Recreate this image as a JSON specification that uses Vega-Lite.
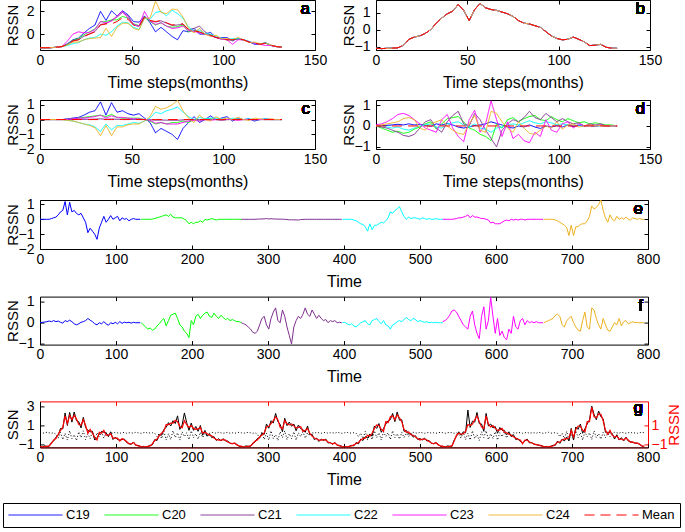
{
"$schema":"https://vega.github.io/schema/vega-lite/v6.json",
"padding":{"left":2,"top":-1,"right":2,"bottom":2},
"autosize":{"type":"pad"},
"data":{"name":"D"},
"datasets":{"D":[
{"c":"C19","m":0,"t":0,"a":-1.2,"b":-1.08,"p":0,"q":0,"k":-1.15,"o":0.25},
{"c":"C19","m":3,"t":3,"a":-1.2,"b":-1.1,"p":0,"q":0.02,"k":-1.25,"o":0.2},
{"c":"C19","m":6,"t":6,"a":-1.2,"b":-1.08,"p":0,"q":0.03,"k":-1.1,"o":0.25},
{"c":"C19","m":9,"t":9,"a":-1.15,"b":-1.07,"p":0,"q":0.05,"k":-1.15,"o":0.3},
{"c":"C19","m":12,"t":12,"a":-1.1,"b":-1.05,"p":0,"q":0.08,"k":-1.15,"o":0.25},
{"c":"C19","m":15,"t":15,"a":-0.85,"b":-0.9,"p":0.05,"q":0.05,"k":-0.75,"o":0.2},
{"c":"C19","m":18,"t":18,"a":-0.5,"b":-0.55,"p":0.1,"q":0.1,"k":-0.6,"o":0.25},
{"c":"C19","m":21,"t":21,"a":-0.35,"b":-0.42,"p":0.15,"q":0.05,"k":-0.2,"o":0.1},
{"c":"C19","m":24,"t":24,"a":0.1,"b":-0.35,"p":0.3,"q":0.08,"k":0.0,"o":-0.3},
{"c":"C19","m":27,"t":27,"a":0.5,"b":-0.2,"p":0.5,"q":0.02,"k":0.7,"o":0.3},
{"c":"C19","m":30,"t":30,"a":0.8,"b":0.02,"p":0.6,"q":-0.02,"k":0.65,"o":-0.45},
{"c":"C19","m":33,"t":33,"a":2.0,"b":0.4,"p":1.2,"q":0.1,"k":2.3,"o":0.2},
{"c":"C19","m":36,"t":36,"a":1.2,"b":0.7,"p":0.3,"q":0.05,"k":1.0,"o":-0.5},
{"c":"C19","m":39,"t":39,"a":2.05,"b":0.95,"p":1.15,"q":0.12,"k":2.35,"o":0.45},
{"c":"C19","m":42,"t":42,"a":1.6,"b":1.1,"p":0.5,"q":0.05,"k":1.35,"o":-0.35},
{"c":"C19","m":45,"t":45,"a":2.05,"b":1.5,"p":0.6,"q":-0.05,"k":2.4,"o":0.05},
{"c":"C19","m":48,"t":48,"a":1.7,"b":1.15,"p":0.4,"q":-0.1,"k":1.5,"o":-0.55},
{"c":"C19","m":51,"t":51,"a":1.1,"b":0.55,"p":0.3,"q":-0.05,"k":1.4,"o":0.35},
{"c":"C19","m":54,"t":54,"a":1.05,"b":1.2,"p":0.4,"q":0.02,"k":0.75,"o":-0.25},
{"c":"C19","m":57,"t":57,"a":1.6,"b":1.55,"p":0.1,"q":0.05,"k":1.85,"o":0.45},
{"c":"C19","m":60,"t":60,"a":1.0,"b":1.3,"p":-0.2,"q":0.1,"k":0.8,"o":-0.45},
{"c":"C19","m":63,"t":63,"a":0.2,"b":1.2,"p":-0.9,"q":0.2,"k":0.5,"o":0.15},
{"c":"C19","m":66,"t":66,"a":0.6,"b":1.15,"p":-0.6,"q":0.12,"k":0.35,"o":-0.35},
{"c":"C19","m":69,"t":69,"a":0.2,"b":1.05,"p":-0.8,"q":0.05,"k":0.4,"o":0.35},
{"c":"C19","m":72,"t":72,"a":-0.2,"b":0.95,"p":-1.0,"q":-0.05,"k":-0.5,"o":-0.5},
{"c":"C19","m":75,"t":75,"a":-0.5,"b":0.8,"p":-1.35,"q":-0.1,"k":-0.25,"o":0.25},
{"c":"C19","m":78,"t":78,"a":0.3,"b":0.55,"p":-0.6,"q":0.0,"k":0.1,"o":-0.15},
{"c":"C19","m":81,"t":81,"a":0.2,"b":0.4,"p":-0.2,"q":-0.05,"k":0.4,"o":0.35},
{"c":"C19","m":84,"t":84,"a":0.5,"b":0.35,"p":0.2,"q":0.05,"k":0.3,"o":-0.3},
{"c":"C19","m":87,"t":87,"a":0.0,"b":0.25,"p":-0.2,"q":-0.05,"k":0.25,"o":0.25},
{"c":"C19","m":90,"t":90,"a":0.0,"b":0.15,"p":0.0,"q":-0.12,"k":-0.15,"o":-0.05},
{"c":"C19","m":93,"t":93,"a":0.15,"b":-0.1,"p":0.25,"q":0.0,"k":0.35,"o":0.25},
{"c":"C19","m":96,"t":96,"a":-0.3,"b":-0.35,"p":0.0,"q":-0.05,"k":-0.45,"o":0.2},
{"c":"C19","m":99,"t":99,"a":-0.3,"b":-0.5,"p":0.1,"q":0.02,"k":-0.2,"o":0.3},
{"c":"C19","m":102,"t":102,"a":-0.3,"b":-0.58,"p":0.2,"q":-0.05,"k":-0.45,"o":0.25},
{"c":"C19","m":105,"t":105,"a":-0.6,"b":-0.55,"p":-0.1,"q":0.05,"k":-0.5,"o":0.2},
{"c":"C19","m":108,"t":108,"a":-0.35,"b":-0.42,"p":0.1,"q":-0.03,"k":-0.45,"o":0.25},
{"c":"C19","m":111,"t":111,"a":-0.5,"b":-0.55,"p":0.0,"q":0.03,"k":-0.4,"o":0.3},
{"c":"C19","m":114,"t":114,"a":-0.65,"b":-0.7,"p":0.05,"q":0.0,"k":-0.75,"o":0.2},
{"c":"C19","m":117,"t":117,"a":-0.9,"b":-0.92,"p":-0.1,"q":0.02,"k":-0.85,"o":0.25},
{"c":"C19","m":120,"t":120,"a":-0.9,"b":-0.9,"p":0.0,"q":-0.02,"k":-0.95,"o":0.25},
{"c":"C19","m":123,"t":123,"a":-0.75,"b":-0.85,"p":0.05,"q":0.02,"k":-0.7,"o":0.2},
{"c":"C19","m":126,"t":126,"a":-1.0,"b":-1.02,"p":0.0,"q":0.0,"k":-1.05,"o":0.3},
{"c":"C19","m":129,"t":129,"a":-1.1,"b":-1.07,"p":0.0,"q":0.0,"k":-1.05,"o":0.25},
{"c":"C19","m":132,"t":132,"a":-1.15,"b":-1.08,"p":0.0,"q":0.0,"k":-1.15,"o":0.2},
{"c":"C20","m":0,"t":133,"a":-1.2,"b":-1.08,"p":0,"q":0,"k":-1.25,"o":0.2},
{"c":"C20","m":3,"t":136,"a":-1.2,"b":-1.1,"p":0,"q":-0.1,"k":-1.15,"o":0.25},
{"c":"C20","m":6,"t":139,"a":-1.2,"b":-1.08,"p":0,"q":-0.2,"k":-1.25,"o":0.3},
{"c":"C20","m":9,"t":142,"a":-1.15,"b":-1.07,"p":0,"q":-0.3,"k":-1.15,"o":0.2},
{"c":"C20","m":12,"t":145,"a":-1.1,"b":-1.05,"p":0,"q":-0.25,"k":-1.05,"o":0.25},
{"c":"C20","m":15,"t":148,"a":-0.88,"b":-0.9,"p":0.02,"q":-0.35,"k":-0.98,"o":0.25},
{"c":"C20","m":18,"t":151,"a":-0.55,"b":-0.55,"p":0.05,"q":-0.3,"k":-0.45,"o":0.2},
{"c":"C20","m":21,"t":154,"a":-0.4,"b":-0.42,"p":0.1,"q":-0.15,"k":-0.55,"o":-0.15},
{"c":"C20","m":24,"t":157,"a":-0.05,"b":-0.35,"p":0.15,"q":-0.05,"k":0.05,"o":0.2},
{"c":"C20","m":27,"t":160,"a":0.2,"b":-0.2,"p":0.2,"q":0.1,"k":0.0,"o":-0.35},
{"c":"C20","m":30,"t":163,"a":0.45,"b":0.02,"p":0.25,"q":0.2,"k":0.6,"o":0.4},
{"c":"C20","m":33,"t":166,"a":1.1,"b":0.4,"p":0.3,"q":-0.15,"k":0.8,"o":-0.5},
{"c":"C20","m":36,"t":169,"a":1.1,"b":0.7,"p":0.2,"q":0.1,"k":1.3,"o":0.15},
{"c":"C20","m":39,"t":172,"a":1.25,"b":0.95,"p":0.35,"q":0.35,"k":0.95,"o":-0.45},
{"c":"C20","m":42,"t":175,"a":1.25,"b":1.1,"p":0.15,"q":0.4,"k":1.5,"o":0.45},
{"c":"C20","m":45,"t":178,"a":1.55,"b":1.5,"p":0.1,"q":0.45,"k":1.2,"o":-0.25},
{"c":"C20","m":48,"t":181,"a":1.4,"b":1.15,"p":0.1,"q":0.2,"k":2.0,"o":0.25},
{"c":"C20","m":51,"t":184,"a":0.9,"b":0.55,"p":0.1,"q":-0.1,"k":0.6,"o":-0.5},
{"c":"C20","m":54,"t":187,"a":0.75,"b":1.2,"p":0.1,"q":-0.2,"k":1.05,"o":0.35},
{"c":"C20","m":57,"t":190,"a":1.5,"b":1.55,"p":0.0,"q":-0.4,"k":2.3,"o":-0.15},
{"c":"C20","m":60,"t":193,"a":1.1,"b":1.3,"p":-0.1,"q":-0.5,"k":1.3,"o":0.25},
{"c":"C20","m":63,"t":196,"a":0.8,"b":1.2,"p":-0.3,"q":-0.7,"k":0.5,"o":-0.45},
{"c":"C20","m":66,"t":199,"a":1.0,"b":1.15,"p":-0.2,"q":0.1,"k":1.25,"o":0.45},
{"c":"C20","m":69,"t":202,"a":0.7,"b":1.05,"p":-0.3,"q":-0.1,"k":0.5,"o":-0.25},
{"c":"C20","m":72,"t":205,"a":0.6,"b":0.95,"p":-0.2,"q":0.3,"k":0.9,"o":0.15},
{"c":"C20","m":75,"t":208,"a":0.65,"b":0.8,"p":-0.2,"q":0.4,"k":0.4,"o":-0.4},
{"c":"C20","m":78,"t":211,"a":0.8,"b":0.55,"p":-0.1,"q":0.2,"k":1.0,"o":0.3},
{"c":"C20","m":81,"t":214,"a":0.2,"b":0.4,"p":-0.2,"q":0.35,"k":0.0,"o":-0.25},
{"c":"C20","m":84,"t":217,"a":0.3,"b":0.35,"p":0.0,"q":0.45,"k":0.5,"o":0.2},
{"c":"C20","m":87,"t":220,"a":0.15,"b":0.25,"p":-0.05,"q":0.5,"k":-0.1,"o":-0.15},
{"c":"C20","m":90,"t":223,"a":0.0,"b":0.15,"p":0.0,"q":0.3,"k":0.15,"o":0.2},
{"c":"C20","m":93,"t":226,"a":-0.05,"b":-0.1,"p":0.05,"q":0.25,"k":-0.25,"o":0.3},
{"c":"C20","m":96,"t":229,"a":-0.3,"b":-0.35,"p":0.0,"q":0.45,"k":-0.15,"o":0.25},
{"c":"C20","m":99,"t":232,"a":-0.45,"b":-0.5,"p":-0.05,"q":0.3,"k":-0.55,"o":0.2},
{"c":"C20","m":102,"t":235,"a":-0.5,"b":-0.58,"p":0.0,"q":0.2,"k":-0.35,"o":0.3},
{"c":"C20","m":105,"t":238,"a":-0.5,"b":-0.55,"p":0.0,"q":0.35,"k":-0.6,"o":0.25},
{"c":"C20","m":108,"t":241,"a":-0.45,"b":-0.42,"p":0.0,"q":0.25,"k":-0.35,"o":0.2},
{"c":"C20","m":111,"t":244,"a":-0.5,"b":-0.55,"p":0.0,"q":0.15,"k":-0.6,"o":0.25},
{"c":"C20","m":114,"t":247,"a":-0.7,"b":-0.7,"p":0.0,"q":0.2,"k":-0.6,"o":0.3},
{"c":"C20","m":117,"t":250,"a":-0.8,"b":-0.92,"p":0.0,"q":0.1,"k":-0.85,"o":0.2},
{"c":"C20","m":120,"t":253,"a":-0.9,"b":-0.9,"p":0.0,"q":0.15,"k":-0.85,"o":0.25},
{"c":"C20","m":123,"t":256,"a":-0.8,"b":-0.85,"p":0.0,"q":0.1,"k":-0.85,"o":0.2},
{"c":"C20","m":126,"t":259,"a":-1.0,"b":-1.02,"p":0.0,"q":0.05,"k":-0.95,"o":0.25},
{"c":"C20","m":129,"t":262,"a":-1.1,"b":-1.07,"p":0.0,"q":0.05,"k":-1.15,"o":0.3},
{"c":"C20","m":132,"t":265,"a":-1.15,"b":-1.08,"p":0.0,"q":0.0,"k":-1.15,"o":0.25},
{"c":"C21","m":0,"t":265,"a":-1.2,"b":-1.08,"p":0,"q":0,"k":-1.15,"o":0.25},
{"c":"C21","m":3,"t":268,"a":-1.2,"b":-1.1,"p":0,"q":-0.05,"k":-1.25,"o":0.2},
{"c":"C21","m":6,"t":271,"a":-1.2,"b":-1.08,"p":0,"q":-0.1,"k":-1.1,"o":0.25},
{"c":"C21","m":9,"t":274,"a":-1.15,"b":-1.07,"p":0,"q":-0.2,"k":-1.15,"o":0.3},
{"c":"C21","m":12,"t":277,"a":-1.1,"b":-1.05,"p":0,"q":-0.3,"k":-1.15,"o":0.25},
{"c":"C21","m":15,"t":280,"a":-0.9,"b":-0.9,"p":0,"q":-0.45,"k":-0.8,"o":0.2},
{"c":"C21","m":18,"t":283,"a":-0.6,"b":-0.55,"p":0,"q":-0.5,"k":-0.7,"o":0.25},
{"c":"C21","m":21,"t":286,"a":-0.49,"b":-0.42,"p":0.01,"q":-0.4,"k":-0.34,"o":0.1},
{"c":"C21","m":24,"t":289,"a":-0.18,"b":-0.35,"p":0.02,"q":-0.1,"k":-0.28,"o":-0.3},
{"c":"C21","m":27,"t":292,"a":0.02,"b":-0.2,"p":0.02,"q":0.2,"k":0.22,"o":0.3},
{"c":"C21","m":30,"t":295,"a":0.23,"b":0.02,"p":0.03,"q":0.3,"k":0.08,"o":-0.45},
{"c":"C21","m":33,"t":298,"a":0.85,"b":0.4,"p":0.05,"q":-0.1,"k":1.15,"o":0.2},
{"c":"C21","m":36,"t":301,"a":0.92,"b":0.7,"p":0.02,"q":-0.3,"k":0.72,"o":-0.5},
{"c":"C21","m":39,"t":304,"a":1.2,"b":0.95,"p":0.04,"q":0.2,"k":1.5,"o":0.45},
{"c":"C21","m":42,"t":307,"a":1.5,"b":1.1,"p":0.02,"q":0.5,"k":1.25,"o":-0.35},
{"c":"C21","m":45,"t":310,"a":1.9,"b":1.5,"p":0.02,"q":0.7,"k":2.25,"o":0.05},
{"c":"C21","m":48,"t":313,"a":1.6,"b":1.15,"p":0.01,"q":0.1,"k":1.4,"o":-0.55},
{"c":"C21","m":51,"t":316,"a":0.81,"b":0.55,"p":0.01,"q":0.0,"k":1.11,"o":0.35},
{"c":"C21","m":54,"t":319,"a":0.66,"b":1.2,"p":0.01,"q":0.6,"k":0.36,"o":-0.25},
{"c":"C21","m":57,"t":322,"a":1.5,"b":1.55,"p":0,"q":0.3,"k":1.75,"o":0.45},
{"c":"C21","m":60,"t":325,"a":1.19,"b":1.3,"p":-0.01,"q":-0.2,"k":0.99,"o":-0.45},
{"c":"C21","m":63,"t":328,"a":1.06,"b":1.2,"p":-0.04,"q":-0.6,"k":1.36,"o":0.15},
{"c":"C21","m":66,"t":331,"a":1.17,"b":1.15,"p":-0.03,"q":-1.0,"k":0.92,"o":-0.35},
{"c":"C21","m":69,"t":334,"a":0.96,"b":1.05,"p":-0.04,"q":-0.2,"k":1.16,"o":0.35},
{"c":"C21","m":72,"t":337,"a":0.76,"b":0.95,"p":-0.04,"q":0.1,"k":0.46,"o":-0.5},
{"c":"C21","m":75,"t":340,"a":0.8,"b":0.8,"p":-0.05,"q":0.3,"k":1.05,"o":0.25},
{"c":"C21","m":78,"t":343,"a":0.88,"b":0.55,"p":-0.02,"q":0.2,"k":0.68,"o":-0.15},
{"c":"C21","m":81,"t":346,"a":0.39,"b":0.4,"p":-0.01,"q":0.4,"k":0.59,"o":0.35},
{"c":"C21","m":84,"t":349,"a":0.5,"b":0.35,"p":0,"q":0.7,"k":0.3,"o":-0.3},
{"c":"C21","m":87,"t":352,"a":0.7,"b":0.25,"p":0,"q":0.4,"k":0.95,"o":0.25},
{"c":"C21","m":90,"t":355,"a":0.2,"b":0.15,"p":0,"q":0.3,"k":0.05,"o":-0.05},
{"c":"C21","m":93,"t":358,"a":-0.1,"b":-0.1,"p":0,"q":0.6,"k":0.1,"o":0.25},
{"c":"C21","m":96,"t":361,"a":-0.3,"b":-0.35,"p":0,"q":0.4,"k":-0.45,"o":0.2},
{"c":"C21","m":99,"t":364,"a":-0.4,"b":-0.5,"p":0,"q":0.2,"k":-0.3,"o":0.3},
{"c":"C21","m":102,"t":367,"a":-0.5,"b":-0.58,"p":0,"q":0.35,"k":-0.65,"o":0.25},
{"c":"C21","m":105,"t":370,"a":-0.5,"b":-0.55,"p":0,"q":0.2,"k":-0.4,"o":0.2},
{"c":"C21","m":108,"t":373,"a":-0.45,"b":-0.42,"p":0,"q":0.1,"k":-0.55,"o":0.25},
{"c":"C21","m":111,"t":376,"a":-0.5,"b":-0.55,"p":0,"q":0.15,"k":-0.4,"o":0.3},
{"c":"C21","m":114,"t":379,"a":-0.7,"b":-0.7,"p":0,"q":0.0,"k":-0.8,"o":0.2},
{"c":"C21","m":117,"t":382,"a":-0.8,"b":-0.92,"p":0,"q":0.1,"k":-0.75,"o":0.25},
{"c":"C21","m":120,"t":385,"a":-0.9,"b":-0.9,"p":0,"q":0.05,"k":-0.95,"o":0.25},
{"c":"C21","m":123,"t":388,"a":-0.8,"b":-0.85,"p":0,"q":0.1,"k":-0.75,"o":0.2},
{"c":"C21","m":126,"t":391,"a":-1.0,"b":-1.02,"p":0,"q":0.0,"k":-1.05,"o":0.3},
{"c":"C21","m":129,"t":394,"a":-1.1,"b":-1.07,"p":0,"q":0.02,"k":-1.05,"o":0.25},
{"c":"C21","m":132,"t":397,"a":-1.15,"b":-1.08,"p":0,"q":0.0,"k":-1.15,"o":0.2},
{"c":"C22","m":0,"t":398,"a":-1.2,"b":-1.08,"p":0,"q":0,"k":-1.25,"o":0.2},
{"c":"C22","m":3,"t":401,"a":-1.2,"b":-1.1,"p":0,"q":0.02,"k":-1.15,"o":0.25},
{"c":"C22","m":6,"t":404,"a":-1.2,"b":-1.08,"p":0,"q":-0.05,"k":-1.25,"o":0.3},
{"c":"C22","m":9,"t":407,"a":-1.15,"b":-1.07,"p":0,"q":-0.1,"k":-1.15,"o":0.2},
{"c":"C22","m":12,"t":410,"a":-1.1,"b":-1.05,"p":0,"q":-0.05,"k":-1.05,"o":0.25},
{"c":"C22","m":15,"t":413,"a":-1.0,"b":-0.9,"p":-0.05,"q":-0.15,"k":-1.1,"o":0.25},
{"c":"C22","m":18,"t":416,"a":-0.85,"b":-0.55,"p":-0.1,"q":-0.2,"k":-0.75,"o":0.2},
{"c":"C22","m":21,"t":419,"a":-0.75,"b":-0.42,"p":-0.2,"q":-0.1,"k":-0.9,"o":-0.15},
{"c":"C22","m":24,"t":422,"a":-0.5,"b":-0.35,"p":-0.3,"q":0.0,"k":-0.4,"o":0.2},
{"c":"C22","m":27,"t":425,"a":-0.35,"b":-0.2,"p":-0.35,"q":0.05,"k":-0.55,"o":-0.35},
{"c":"C22","m":30,"t":428,"a":-0.3,"b":0.02,"p":-0.5,"q":0.1,"k":-0.15,"o":0.4},
{"c":"C22","m":33,"t":431,"a":0.0,"b":0.4,"p":-0.8,"q":-0.05,"k":-0.3,"o":-0.5},
{"c":"C22","m":36,"t":434,"a":-0.1,"b":0.7,"p":-0.3,"q":-0.1,"k":0.1,"o":0.15},
{"c":"C22","m":39,"t":437,"a":0.2,"b":0.95,"p":-0.7,"q":0.1,"k":-0.1,"o":-0.45},
{"c":"C22","m":42,"t":440,"a":0.7,"b":1.1,"p":-0.4,"q":0.15,"k":0.95,"o":0.45},
{"c":"C22","m":45,"t":443,"a":1.05,"b":1.5,"p":-0.4,"q":0.2,"k":0.7,"o":-0.25},
{"c":"C22","m":48,"t":446,"a":1.0,"b":1.15,"p":-0.3,"q":0.05,"k":1.2,"o":0.25},
{"c":"C22","m":51,"t":449,"a":0.6,"b":0.55,"p":-0.2,"q":-0.05,"k":0.3,"o":-0.5},
{"c":"C22","m":54,"t":452,"a":0.4,"b":1.2,"p":-0.25,"q":0.1,"k":0.7,"o":0.35},
{"c":"C22","m":57,"t":455,"a":1.4,"b":1.55,"p":-0.1,"q":-0.1,"k":1.15,"o":-0.15},
{"c":"C22","m":60,"t":458,"a":1.3,"b":1.3,"p":0.1,"q":-0.15,"k":1.5,"o":0.25},
{"c":"C22","m":63,"t":461,"a":1.9,"b":1.2,"p":0.5,"q":-0.3,"k":1.6,"o":-0.45},
{"c":"C22","m":66,"t":464,"a":2.0,"b":1.15,"p":0.4,"q":-0.1,"k":2.25,"o":0.45},
{"c":"C22","m":69,"t":467,"a":1.6,"b":1.05,"p":0.6,"q":-0.05,"k":1.4,"o":-0.25},
{"c":"C22","m":72,"t":470,"a":2.1,"b":0.95,"p":0.7,"q":0.05,"k":2.4,"o":0.15},
{"c":"C22","m":75,"t":473,"a":1.8,"b":0.8,"p":0.85,"q":0.1,"k":1.55,"o":-0.4},
{"c":"C22","m":78,"t":476,"a":1.4,"b":0.55,"p":0.5,"q":0.05,"k":1.6,"o":0.3},
{"c":"C22","m":81,"t":479,"a":0.6,"b":0.4,"p":0.2,"q":0.15,"k":0.4,"o":-0.25},
{"c":"C22","m":84,"t":482,"a":0.3,"b":0.35,"p":0.0,"q":0.25,"k":0.5,"o":0.2},
{"c":"C22","m":87,"t":485,"a":0.35,"b":0.25,"p":0.15,"q":0.15,"k":0.1,"o":-0.15},
{"c":"C22","m":90,"t":488,"a":0.05,"b":0.15,"p":0.05,"q":0.1,"k":0.2,"o":0.2},
{"c":"C22","m":93,"t":491,"a":0.0,"b":-0.1,"p":0.1,"q":0.2,"k":-0.2,"o":0.3},
{"c":"C22","m":96,"t":494,"a":-0.2,"b":-0.35,"p":0.1,"q":0.15,"k":-0.05,"o":0.25},
{"c":"C22","m":99,"t":497,"a":-0.35,"b":-0.5,"p":0.05,"q":0.05,"k":-0.45,"o":0.2},
{"c":"C22","m":102,"t":500,"a":-0.5,"b":-0.58,"p":0.0,"q":0.1,"k":-0.35,"o":0.3},
{"c":"C22","m":105,"t":503,"a":-0.4,"b":-0.55,"p":0.1,"q":0.05,"k":-0.5,"o":0.25},
{"c":"C22","m":108,"t":506,"a":-0.4,"b":-0.42,"p":0.05,"q":0.02,"k":-0.3,"o":0.2},
{"c":"C22","m":111,"t":509,"a":-0.5,"b":-0.55,"p":0.0,"q":0.05,"k":-0.6,"o":0.25},
{"c":"C22","m":114,"t":512,"a":-0.65,"b":-0.7,"p":0.05,"q":0.0,"k":-0.55,"o":0.3},
{"c":"C22","m":117,"t":515,"a":-0.8,"b":-0.92,"p":0.0,"q":0.02,"k":-0.85,"o":0.2},
{"c":"C22","m":120,"t":518,"a":-0.9,"b":-0.9,"p":0.0,"q":0.0,"k":-0.85,"o":0.25},
{"c":"C22","m":123,"t":521,"a":-0.75,"b":-0.85,"p":0.05,"q":0.02,"k":-0.8,"o":0.2},
{"c":"C22","m":126,"t":524,"a":-1.0,"b":-1.02,"p":0.0,"q":0.0,"k":-0.95,"o":0.25},
{"c":"C22","m":129,"t":527,"a":-1.1,"b":-1.07,"p":0.0,"q":0.0,"k":-1.15,"o":0.3},
{"c":"C22","m":132,"t":530,"a":-1.15,"b":-1.08,"p":0.0,"q":0.0,"k":-1.15,"o":0.25},
{"c":"C23","m":0,"t":530,"a":-1.2,"b":-1.08,"p":0,"q":0.05,"k":-1.15,"o":0.25},
{"c":"C23","m":3,"t":533,"a":-1.2,"b":-1.1,"p":0,"q":0.1,"k":-1.25,"o":0.2},
{"c":"C23","m":6,"t":536,"a":-1.2,"b":-1.08,"p":0,"q":0.2,"k":-1.1,"o":0.25},
{"c":"C23","m":9,"t":539,"a":-1.15,"b":-1.07,"p":0,"q":0.35,"k":-1.15,"o":0.3},
{"c":"C23","m":12,"t":542,"a":-1.1,"b":-1.05,"p":0,"q":0.55,"k":-1.15,"o":0.25},
{"c":"C23","m":15,"t":545,"a":-0.6,"b":-0.9,"p":0.02,"q":0.6,"k":-0.5,"o":0.2},
{"c":"C23","m":18,"t":548,"a":0.0,"b":-0.55,"p":0.05,"q":0.5,"k":-0.1,"o":0.25},
{"c":"C23","m":21,"t":551,"a":0.2,"b":-0.42,"p":0.1,"q":0.3,"k":0.35,"o":0.1},
{"c":"C23","m":24,"t":554,"a":0.1,"b":-0.35,"p":0.1,"q":0.1,"k":0.0,"o":-0.3},
{"c":"C23","m":27,"t":557,"a":0.15,"b":-0.2,"p":0.15,"q":-0.1,"k":0.35,"o":0.3},
{"c":"C23","m":30,"t":560,"a":0.4,"b":0.02,"p":0.2,"q":-0.2,"k":0.25,"o":-0.45},
{"c":"C23","m":33,"t":563,"a":1.1,"b":0.4,"p":0.3,"q":-0.3,"k":2.6,"o":0.2},
{"c":"C23","m":36,"t":566,"a":1.0,"b":0.7,"p":0.1,"q":0.3,"k":0.8,"o":-0.5},
{"c":"C23","m":39,"t":569,"a":1.15,"b":0.95,"p":0.25,"q":0.55,"k":1.45,"o":0.45},
{"c":"C23","m":42,"t":572,"a":1.6,"b":1.1,"p":0.15,"q":-0.1,"k":1.35,"o":-0.35},
{"c":"C23","m":45,"t":575,"a":2.0,"b":1.5,"p":0.15,"q":-0.5,"k":2.35,"o":0.05},
{"c":"C23","m":48,"t":578,"a":1.4,"b":1.15,"p":0.1,"q":-0.75,"k":1.2,"o":-0.55},
{"c":"C23","m":51,"t":581,"a":0.85,"b":0.55,"p":0.05,"q":0.3,"k":1.15,"o":0.35},
{"c":"C23","m":54,"t":584,"a":0.7,"b":1.2,"p":0.05,"q":0.75,"k":0.4,"o":-0.25},
{"c":"C23","m":57,"t":587,"a":2.0,"b":1.55,"p":0.0,"q":-0.3,"k":2.25,"o":0.45},
{"c":"C23","m":60,"t":590,"a":1.15,"b":1.3,"p":-0.05,"q":0.1,"k":0.95,"o":-0.45},
{"c":"C23","m":63,"t":593,"a":0.85,"b":1.2,"p":-0.25,"q":1.2,"k":1.15,"o":0.15},
{"c":"C23","m":66,"t":596,"a":1.0,"b":1.15,"p":-0.2,"q":0.3,"k":0.75,"o":-0.35},
{"c":"C23","m":69,"t":599,"a":0.7,"b":1.05,"p":-0.3,"q":-0.5,"k":0.9,"o":0.35},
{"c":"C23","m":72,"t":602,"a":0.5,"b":0.95,"p":-0.3,"q":0.2,"k":0.2,"o":-0.5},
{"c":"C23","m":75,"t":605,"a":0.55,"b":0.8,"p":-0.3,"q":-0.6,"k":0.8,"o":0.25},
{"c":"C23","m":78,"t":608,"a":0.7,"b":0.55,"p":-0.2,"q":-0.4,"k":0.5,"o":-0.15},
{"c":"C23","m":81,"t":611,"a":0.3,"b":0.4,"p":-0.1,"q":-0.7,"k":0.5,"o":0.35},
{"c":"C23","m":84,"t":614,"a":0.25,"b":0.35,"p":-0.05,"q":-0.8,"k":0.05,"o":-0.3},
{"c":"C23","m":87,"t":617,"a":0.1,"b":0.25,"p":-0.1,"q":-0.3,"k":0.35,"o":0.25},
{"c":"C23","m":90,"t":620,"a":0.0,"b":0.15,"p":0.0,"q":-0.5,"k":-0.15,"o":-0.05},
{"c":"C23","m":93,"t":623,"a":-0.15,"b":-0.1,"p":-0.05,"q":0.3,"k":0.05,"o":0.25},
{"c":"C23","m":96,"t":626,"a":-0.3,"b":-0.35,"p":0.0,"q":-0.2,"k":-0.45,"o":0.2},
{"c":"C23","m":99,"t":629,"a":-0.45,"b":-0.5,"p":-0.05,"q":-0.3,"k":-0.35,"o":0.3},
{"c":"C23","m":102,"t":632,"a":-0.5,"b":-0.58,"p":0.0,"q":0.1,"k":-0.65,"o":0.25},
{"c":"C23","m":105,"t":635,"a":-0.9,"b":-0.55,"p":0.0,"q":0.2,"k":-0.8,"o":0.2},
{"c":"C23","m":108,"t":638,"a":-0.5,"b":-0.42,"p":-0.05,"q":-0.1,"k":-0.6,"o":0.25},
{"c":"C23","m":111,"t":641,"a":-0.5,"b":-0.55,"p":0.0,"q":0.1,"k":-0.4,"o":0.3},
{"c":"C23","m":114,"t":644,"a":-0.7,"b":-0.7,"p":0.0,"q":0.0,"k":-0.8,"o":0.2},
{"c":"C23","m":117,"t":647,"a":-0.8,"b":-0.92,"p":0.0,"q":0.05,"k":-0.75,"o":0.25},
{"c":"C23","m":120,"t":650,"a":-0.9,"b":-0.9,"p":0.0,"q":0.0,"k":-0.95,"o":0.25},
{"c":"C23","m":123,"t":653,"a":-1.0,"b":-0.85,"p":0.0,"q":0.05,"k":-0.95,"o":0.2},
{"c":"C23","m":126,"t":656,"a":-1.0,"b":-1.02,"p":0.0,"q":0.0,"k":-1.05,"o":0.3},
{"c":"C23","m":129,"t":659,"a":-1.1,"b":-1.07,"p":0.0,"q":0.0,"k":-1.05,"o":0.25},
{"c":"C23","m":132,"t":662,"a":-1.15,"b":-1.08,"p":0.0,"q":0.0,"k":-1.15,"o":0.2},
{"c":"C24","m":0,"t":663,"a":-1.2,"b":-1.08,"p":0,"q":0,"k":-1.25,"o":0.2},
{"c":"C24","m":3,"t":666,"a":-1.2,"b":-1.1,"p":0,"q":0.05,"k":-1.15,"o":0.25},
{"c":"C24","m":6,"t":669,"a":-1.2,"b":-1.08,"p":0,"q":0.1,"k":-1.25,"o":0.3},
{"c":"C24","m":9,"t":672,"a":-1.15,"b":-1.07,"p":0,"q":0.15,"k":-1.15,"o":0.2},
{"c":"C24","m":12,"t":675,"a":-1.1,"b":-1.05,"p":0,"q":0.2,"k":-1.05,"o":0.25},
{"c":"C24","m":15,"t":678,"a":-0.95,"b":-0.9,"p":-0.05,"q":0.35,"k":-1.05,"o":0.25},
{"c":"C24","m":18,"t":681,"a":-0.7,"b":-0.55,"p":-0.1,"q":0.4,"k":-0.6,"o":0.2},
{"c":"C24","m":21,"t":684,"a":-0.7,"b":-0.42,"p":-0.2,"q":0.3,"k":-0.85,"o":-0.15},
{"c":"C24","m":24,"t":687,"a":-0.5,"b":-0.35,"p":-0.3,"q":-0.1,"k":-0.4,"o":0.2},
{"c":"C24","m":27,"t":690,"a":-0.4,"b":-0.2,"p":-0.4,"q":-0.2,"k":-0.6,"o":-0.35},
{"c":"C24","m":30,"t":693,"a":-0.35,"b":0.02,"p":-0.55,"q":0.1,"k":-0.2,"o":0.4},
{"c":"C24","m":33,"t":696,"a":-0.3,"b":0.4,"p":-1.1,"q":0.2,"k":-0.6,"o":-0.5},
{"c":"C24","m":36,"t":699,"a":0.5,"b":0.7,"p":-0.4,"q":0.3,"k":0.7,"o":0.15},
{"c":"C24","m":39,"t":702,"a":-0.2,"b":0.95,"p":-1.1,"q":0.0,"k":-0.5,"o":-0.45},
{"c":"C24","m":42,"t":705,"a":0.6,"b":1.1,"p":-0.5,"q":-0.2,"k":0.85,"o":0.45},
{"c":"C24","m":45,"t":708,"a":0.95,"b":1.5,"p":-0.5,"q":-0.35,"k":0.6,"o":-0.25},
{"c":"C24","m":48,"t":711,"a":0.95,"b":1.15,"p":-0.35,"q":-0.4,"k":1.15,"o":0.25},
{"c":"C24","m":51,"t":714,"a":0.5,"b":0.55,"p":-0.3,"q":0.1,"k":0.2,"o":-0.5},
{"c":"C24","m":54,"t":717,"a":0.35,"b":1.2,"p":-0.3,"q":0.5,"k":0.65,"o":0.35},
{"c":"C24","m":57,"t":720,"a":1.4,"b":1.55,"p":-0.1,"q":-0.2,"k":1.15,"o":-0.15},
{"c":"C24","m":60,"t":723,"a":1.4,"b":1.3,"p":0.2,"q":-0.3,"k":1.6,"o":0.25},
{"c":"C24","m":63,"t":726,"a":2.9,"b":1.2,"p":0.9,"q":0.7,"k":3.0,"o":-0.45},
{"c":"C24","m":66,"t":729,"a":1.9,"b":1.15,"p":0.7,"q":0.6,"k":2.15,"o":0.45},
{"c":"C24","m":69,"t":732,"a":1.8,"b":1.05,"p":0.8,"q":0.2,"k":1.6,"o":-0.25},
{"c":"C24","m":72,"t":735,"a":2.2,"b":0.95,"p":1.0,"q":-0.1,"k":2.5,"o":0.15},
{"c":"C24","m":75,"t":738,"a":2.15,"b":0.8,"p":1.3,"q":-0.3,"k":1.9,"o":-0.4},
{"c":"C24","m":78,"t":741,"a":1.5,"b":0.55,"p":0.6,"q":0.2,"k":1.7,"o":0.3},
{"c":"C24","m":81,"t":744,"a":0.5,"b":0.4,"p":0.1,"q":-0.1,"k":0.3,"o":-0.25},
{"c":"C24","m":84,"t":747,"a":0.1,"b":0.35,"p":-0.2,"q":-0.35,"k":0.3,"o":0.2},
{"c":"C24","m":87,"t":750,"a":0.5,"b":0.25,"p":0.3,"q":-0.4,"k":0.25,"o":-0.15},
{"c":"C24","m":90,"t":753,"a":0.0,"b":0.15,"p":0.0,"q":-0.2,"k":0.15,"o":0.2},
{"c":"C24","m":93,"t":756,"a":-0.2,"b":-0.1,"p":-0.1,"q":0.0,"k":-0.4,"o":0.3},
{"c":"C24","m":96,"t":759,"a":-0.1,"b":-0.35,"p":0.2,"q":-0.1,"k":0.05,"o":0.25},
{"c":"C24","m":99,"t":762,"a":-0.4,"b":-0.5,"p":0.0,"q":0.2,"k":-0.5,"o":0.2},
{"c":"C24","m":102,"t":765,"a":-0.4,"b":-0.58,"p":0.1,"q":-0.15,"k":-0.25,"o":0.3},
{"c":"C24","m":105,"t":768,"a":-0.5,"b":-0.55,"p":0.0,"q":0.05,"k":-0.6,"o":0.25},
{"c":"C24","m":108,"t":771,"a":-0.3,"b":-0.42,"p":0.15,"q":0.1,"k":-0.2,"o":0.2},
{"c":"C24","m":111,"t":774,"a":-0.5,"b":-0.55,"p":0.0,"q":-0.05,"k":-0.6,"o":0.25},
{"c":"C24","m":114,"t":777,"a":-0.75,"b":-0.7,"p":-0.05,"q":0.0,"k":-0.65,"o":0.3},
{"c":"C24","m":117,"t":780,"a":-0.7,"b":-0.92,"p":0.1,"q":0.05,"k":-0.75,"o":0.2},
{"c":"C24","m":120,"t":783,"a":-0.85,"b":-0.9,"p":0.05,"q":0.0,"k":-0.8,"o":0.25},
{"c":"C24","m":123,"t":786,"a":-0.8,"b":-0.85,"p":0.0,"q":0.02,"k":-0.85,"o":0.2},
{"c":"C24","m":126,"t":789,"a":-0.95,"b":-1.02,"p":0.05,"q":0.0,"k":-0.9,"o":0.25},
{"c":"C24","m":129,"t":792,"a":-1.1,"b":-1.07,"p":0.0,"q":0.0,"k":-1.15,"o":0.3},
{"c":"C24","m":132,"t":795,"a":-1.15,"b":-1.08,"p":0.0,"q":0.0,"k":-1.15,"o":0.25},
{"c":"Mean","m":0,"a":-1.2,"b":-1.08,"p":0,"q":0},
{"c":"Mean","m":3,"a":-1.2,"b":-1.1,"p":0,"q":0},
{"c":"Mean","m":6,"a":-1.2,"b":-1.08,"p":0,"q":0},
{"c":"Mean","m":9,"a":-1.15,"b":-1.07,"p":0,"q":0},
{"c":"Mean","m":12,"a":-1.1,"b":-1.05,"p":0,"q":0},
{"c":"Mean","m":15,"a":-0.9,"b":-0.9,"p":0,"q":0},
{"c":"Mean","m":18,"a":-0.6,"b":-0.55,"p":0,"q":0},
{"c":"Mean","m":21,"a":-0.5,"b":-0.42,"p":0,"q":0},
{"c":"Mean","m":24,"a":-0.2,"b":-0.35,"p":0,"q":0},
{"c":"Mean","m":27,"a":0.0,"b":-0.2,"p":0,"q":0},
{"c":"Mean","m":30,"a":0.2,"b":0.02,"p":0,"q":0},
{"c":"Mean","m":33,"a":0.8,"b":0.4,"p":0,"q":0},
{"c":"Mean","m":36,"a":0.9,"b":0.7,"p":0,"q":0},
{"c":"Mean","m":39,"a":0.9,"b":0.95,"p":0,"q":0},
{"c":"Mean","m":42,"a":1.1,"b":1.1,"p":0,"q":0},
{"c":"Mean","m":45,"a":1.45,"b":1.5,"p":0,"q":0},
{"c":"Mean","m":48,"a":1.3,"b":1.15,"p":0,"q":0},
{"c":"Mean","m":51,"a":0.8,"b":0.55,"p":0,"q":0},
{"c":"Mean","m":54,"a":0.65,"b":1.2,"p":0,"q":0},
{"c":"Mean","m":57,"a":1.5,"b":1.55,"p":0,"q":0},
{"c":"Mean","m":60,"a":1.2,"b":1.3,"p":0,"q":0},
{"c":"Mean","m":63,"a":1.1,"b":1.2,"p":0,"q":0},
{"c":"Mean","m":66,"a":1.2,"b":1.15,"p":0,"q":0},
{"c":"Mean","m":69,"a":1.0,"b":1.05,"p":0,"q":0},
{"c":"Mean","m":72,"a":0.8,"b":0.95,"p":0,"q":0},
{"c":"Mean","m":75,"a":0.85,"b":0.8,"p":0,"q":0},
{"c":"Mean","m":78,"a":0.9,"b":0.55,"p":0,"q":0},
{"c":"Mean","m":81,"a":0.4,"b":0.4,"p":0,"q":0},
{"c":"Mean","m":84,"a":0.3,"b":0.35,"p":0,"q":0},
{"c":"Mean","m":87,"a":0.2,"b":0.25,"p":0,"q":0},
{"c":"Mean","m":90,"a":0.0,"b":0.15,"p":0,"q":0},
{"c":"Mean","m":93,"a":-0.1,"b":-0.1,"p":0,"q":0},
{"c":"Mean","m":96,"a":-0.3,"b":-0.35,"p":0,"q":0},
{"c":"Mean","m":99,"a":-0.4,"b":-0.5,"p":0,"q":0},
{"c":"Mean","m":102,"a":-0.5,"b":-0.58,"p":0,"q":0},
{"c":"Mean","m":105,"a":-0.5,"b":-0.55,"p":0,"q":0},
{"c":"Mean","m":108,"a":-0.45,"b":-0.42,"p":0,"q":0},
{"c":"Mean","m":111,"a":-0.5,"b":-0.55,"p":0,"q":0},
{"c":"Mean","m":114,"a":-0.7,"b":-0.7,"p":0,"q":0},
{"c":"Mean","m":117,"a":-0.8,"b":-0.92,"p":0,"q":0},
{"c":"Mean","m":120,"a":-0.9,"b":-0.9,"p":0,"q":0},
{"c":"Mean","m":123,"a":-0.8,"b":-0.85,"p":0,"q":0},
{"c":"Mean","m":126,"a":-1.0,"b":-1.02,"p":0,"q":0},
{"c":"Mean","m":129,"a":-1.1,"b":-1.07,"p":0,"q":0},
{"c":"Mean","m":132,"a":-1.15,"b":-1.08,"p":0,"q":0}
]},
"spacing":12.4,
"vconcat":[
{"spacing":6,
 "vconcat":[
{"hconcat":[
 {"width":275,"height":50,
  "layer":[
   {"mark":{"type":"line","clip":true},
    "encoding":{
     "x":{"field":"m","type":"quantitative","scale":{"domain":[0,150],"nice":false},"axis":{"values":[0,50,100,150],"title":"Time steps(months)"}},
     "y":{"field":"a","type":"quantitative","scale":{"domain":[-1.4,3],"nice":false,"zero":false},"axis":{"values":[0,2],"title":"RSSN"}},
     "color":{"field":"c","type":"nominal","scale":{"domain":["C19","C20","C21","C22","C23","C24","Mean"],"range":["#0000ff","#00ff00","#7e2f8e","#00ffff","#ff00ff","#edb120","#ff0000"]},
       "legend":{"orient":"none","legendX":-37,"legendY":503,"direction":"horizontal","columns":7,"title":null,"symbolType":"stroke","symbolSize":2916,"clipHeight":14,"labelFontSize":13,"labelColor":"black","labelOffset":3,"columnPadding":14,"padding":5,"strokeColor":"black","fillColor":"white",
         "encode":{"symbols":{"strokeWidth":{"condition":{"test":"datum.value === 'Mean'","value":3},"value":1}}}}},
     "strokeDash":{"field":"c","type":"nominal","scale":{"domain":["C19","C20","C21","C22","C23","C24","Mean"],"range":[[1,0],[1,0],[1,0],[1,0],[1,0],[1,0],[10,6]]},
       "legend":{"orient":"none","legendX":-37,"legendY":503,"direction":"horizontal","columns":7,"title":null,"symbolType":"stroke","symbolSize":2916,"clipHeight":14,"labelFontSize":13,"labelColor":"black","labelOffset":3,"columnPadding":14,"padding":5,"strokeColor":"black","fillColor":"white",
         "encode":{"symbols":{"strokeWidth":{"condition":{"test":"datum.value === 'Mean'","value":3},"value":1}}}}},
     "strokeWidth":{"condition":{"test":"datum.c === 'Mean'","value":3.5},"value":1}
    }},
   {"mark":{"type":"text","text":"a","align":"right","baseline":"top","fontSize":17,"dx":-5,"dy":1},
    "encoding":{
     "x":{"datum":150,"type":"quantitative","axis":{"orient":"top","values":[0,50,100,150],"labels":false,"title":null,"minExtent":0,"maxExtent":0}},
     "y":{"datum":3,"type":"quantitative","axis":{"orient":"right","values":[0,2],"labels":false,"title":null,"minExtent":0,"maxExtent":0}}}}
  ],
  "resolve":{"axis":{"x":"independent","y":"independent"}}},
 {"width":274,"height":50,
  "layer":[
   {"mark":{"type":"line","clip":true},
    "encoding":{
     "x":{"field":"m","type":"quantitative","scale":{"domain":[0,150],"nice":false},"axis":{"values":[0,50,100,150],"title":"Time steps(months)"}},
     "y":{"field":"b","type":"quantitative","scale":{"domain":[-1.18,1.76],"nice":false,"zero":false},"axis":{"values":[-1,0,1],"title":"RSSN"}},
     "color":{"field":"c","type":"nominal","scale":{"domain":["C19","C20","C21","C22","C23","C24","Mean"],"range":["#0000ff","#00ff00","#7e2f8e","#00ffff","#ff00ff","#edb120","#ff0000"]},"legend":null},
     "strokeDash":{"field":"c","type":"nominal","scale":{"domain":["C19","C20","C21","C22","C23","C24","Mean"],"range":[[1,0],[1,0],[1,0],[1,0],[1,0],[1,0],[10,6]]},"legend":null},
     "strokeWidth":{"condition":{"test":"datum.c === 'Mean'","value":3.5},"value":1}
    }},
   {"mark":{"type":"text","text":"b","align":"right","baseline":"top","fontSize":17,"dx":-5,"dy":1},
    "encoding":{
     "x":{"datum":150,"type":"quantitative","axis":{"orient":"top","values":[0,50,100,150],"labels":false,"title":null,"minExtent":0,"maxExtent":0}},
     "y":{"datum":1.76,"type":"quantitative","axis":{"orient":"right","values":[-1,0,1],"labels":false,"title":null,"minExtent":0,"maxExtent":0}}}}
  ],
  "resolve":{"axis":{"x":"independent","y":"independent"}}}
],"spacing":12},
{"hconcat":[
 {"width":275,"height":49,
  "layer":[
   {"mark":{"type":"line","clip":true},
    "encoding":{
     "x":{"field":"m","type":"quantitative","scale":{"domain":[0,150],"nice":false},"axis":{"values":[0,50,100,150],"title":"Time steps(months)"}},
     "y":{"field":"p","type":"quantitative","scale":{"domain":[-2,1.33],"nice":false,"zero":false},"axis":{"values":[-2,-1,0,1],"title":"RSSN"}},
     "color":{"field":"c","type":"nominal","scale":{"domain":["C19","C20","C21","C22","C23","C24","Mean"],"range":["#0000ff","#00ff00","#7e2f8e","#00ffff","#ff00ff","#edb120","#ff0000"]},"legend":null},
     "strokeDash":{"field":"c","type":"nominal","scale":{"domain":["C19","C20","C21","C22","C23","C24","Mean"],"range":[[1,0],[1,0],[1,0],[1,0],[1,0],[1,0],[10,6]]},"legend":null},
     "strokeWidth":{"condition":{"test":"datum.c === 'Mean'","value":3.5},"value":1}
    }},
   {"mark":{"type":"text","text":"c","align":"right","baseline":"top","fontSize":17,"dx":-5,"dy":1},
    "encoding":{
     "x":{"datum":150,"type":"quantitative","axis":{"orient":"top","values":[0,50,100,150],"labels":false,"title":null,"minExtent":0,"maxExtent":0}},
     "y":{"datum":1.33,"type":"quantitative","axis":{"orient":"right","values":[-2,-1,0,1],"labels":false,"title":null,"minExtent":0,"maxExtent":0}}}}
  ],
  "resolve":{"axis":{"x":"independent","y":"independent"}}},
 {"width":274,"height":49,
  "layer":[
   {"mark":{"type":"line","clip":true},
    "encoding":{
     "x":{"field":"m","type":"quantitative","scale":{"domain":[0,150],"nice":false},"axis":{"values":[0,50,100,150],"title":"Time steps(months)"}},
     "y":{"field":"q","type":"quantitative","scale":{"domain":[-1.1,1.24],"nice":false,"zero":false},"axis":{"values":[-1,0,1],"title":"RSSN"}},
     "color":{"field":"c","type":"nominal","scale":{"domain":["C19","C20","C21","C22","C23","C24","Mean"],"range":["#0000ff","#00ff00","#7e2f8e","#00ffff","#ff00ff","#edb120","#ff0000"]},"legend":null},
     "strokeDash":{"field":"c","type":"nominal","scale":{"domain":["C19","C20","C21","C22","C23","C24","Mean"],"range":[[1,0],[1,0],[1,0],[1,0],[1,0],[1,0],[10,6]]},"legend":null},
     "strokeWidth":{"condition":{"test":"datum.c === 'Mean'","value":3.5},"value":1}
    }},
   {"mark":{"type":"text","text":"d","align":"right","baseline":"top","fontSize":17,"dx":-5,"dy":1},
    "encoding":{
     "x":{"datum":150,"type":"quantitative","axis":{"orient":"top","values":[0,50,100,150],"labels":false,"title":null,"minExtent":0,"maxExtent":0}},
     "y":{"datum":1.24,"type":"quantitative","axis":{"orient":"right","values":[-1,0,1],"labels":false,"title":null,"minExtent":0,"maxExtent":0}}}}
  ],
  "resolve":{"axis":{"x":"independent","y":"independent"}}}
],"spacing":12},
{"spacing":3.6,
 "vconcat":[
{"width":608,"height":49,
 "transform":[{"filter":"datum.c != 'Mean'"}],
 "layer":[
  {"mark":{"type":"line","clip":true,"strokeWidth":1},
   "encoding":{
    "x":{"field":"t","type":"quantitative","scale":{"domain":[0,800],"nice":false},"axis":{"values":[0,100,200,300,400,500,600,700,800],"title":"Time"}},
    "y":{"field":"p","type":"quantitative","scale":{"domain":[-2,1.3],"nice":false,"zero":false},"axis":{"values":[-2,-1,0,1],"title":"RSSN"}},
    "color":{"field":"c","type":"nominal","scale":{"domain":["C19","C20","C21","C22","C23","C24","Mean"],"range":["#0000ff","#00ff00","#7e2f8e","#00ffff","#ff00ff","#edb120","#ff0000"]},"legend":null}
   }},
  {"mark":{"type":"text","text":"e","align":"right","baseline":"top","fontSize":17,"dx":-5,"dy":1},
   "encoding":{
    "x":{"datum":800,"type":"quantitative","axis":{"orient":"top","values":[0,100,200,300,400,500,600,700,800],"labels":false,"title":null,"minExtent":0,"maxExtent":0}},
    "y":{"datum":1.3,"type":"quantitative","axis":{"orient":"right","values":[-2,-1,0,1],"labels":false,"title":null,"minExtent":0,"maxExtent":0}}}}
 ],
 "resolve":{"axis":{"x":"independent","y":"independent"}}},
{"width":608,"height":48,
 "transform":[{"filter":"datum.c != 'Mean'"}],
 "layer":[
  {"mark":{"type":"line","clip":true,"strokeWidth":1},
   "encoding":{
    "x":{"field":"t","type":"quantitative","scale":{"domain":[0,800],"nice":false},"axis":{"values":[0,100,200,300,400,500,600,700,800],"title":"Time"}},
    "y":{"field":"q","type":"quantitative","scale":{"domain":[-1.03,1.23],"nice":false,"zero":false},"axis":{"values":[-1,0,1],"title":"RSSN"}},
    "color":{"field":"c","type":"nominal","scale":{"domain":["C19","C20","C21","C22","C23","C24","Mean"],"range":["#0000ff","#00ff00","#7e2f8e","#00ffff","#ff00ff","#edb120","#ff0000"]},"legend":null}
   }},
  {"mark":{"type":"text","text":"f","align":"right","baseline":"top","fontSize":17,"dx":-5,"dy":1},
   "encoding":{
    "x":{"datum":800,"type":"quantitative","axis":{"orient":"top","values":[0,100,200,300,400,500,600,700,800],"labels":false,"title":null,"minExtent":0,"maxExtent":0}},
    "y":{"datum":1.23,"type":"quantitative","axis":{"orient":"right","values":[-1,0,1],"labels":false,"title":null,"minExtent":0,"maxExtent":0}}}}
 ],
 "resolve":{"axis":{"x":"independent","y":"independent"}}}
 ]}
 ]},
{"width":608,"height":46,
 "view":{"stroke":"#ff0000"},
 "transform":[{"filter":"datum.c != 'Mean'"}],
 "layer":[
  {"mark":{"type":"line","clip":true,"color":"black","strokeDash":[1,2],"strokeWidth":1},
   "encoding":{
    "x":{"field":"t","type":"quantitative","scale":{"domain":[0,800],"nice":false},"axis":null},
    "y":{"field":"o","type":"quantitative","scale":{"domain":[-1.26,3.49],"nice":false,"zero":false},"axis":null}
   }},
  {"mark":{"type":"line","clip":true,"color":"black","strokeWidth":1},
   "encoding":{
    "x":{"field":"t","type":"quantitative","axis":{"values":[0,100,200,300,400,500,600,700,800],"title":"Time","domain":true,"domainColor":"black"}},
    "y":{"field":"k","type":"quantitative","axis":{"values":[-1,1,3],"title":"SSN","domain":true,"domainColor":"black"}}
   }},
  {"mark":{"type":"line","clip":true,"color":"#ff0000","strokeWidth":1.2},
   "encoding":{
    "x":{"field":"t","type":"quantitative","axis":null},
    "y":{"field":"a","type":"quantitative","axis":{"orient":"right","values":[-1,1],"title":"RSSN","titleColor":"#ff0000","labelColor":"#ff0000","tickColor":"#ff0000","titleAngle":270,"titleBaseline":"top","labelPadding":7,"titlePadding":4,"minExtent":14,"maxExtent":14}}
   }},
  {"mark":{"type":"text","text":"g","align":"right","baseline":"top","fontSize":17,"dx":-5,"dy":-1},
   "encoding":{
    "x":{"datum":800,"type":"quantitative","axis":{"orient":"top","values":[0,100,200,300,400,500,600,700,800],"labels":false,"title":null,"tickColor":"#ff0000","minExtent":0,"maxExtent":0}},
    "y":{"datum":3.49,"type":"quantitative","axis":null}}}
 ],
 "resolve":{"axis":{"x":"independent","y":"independent"}}}
],
"config":{
 "font":"Liberation Sans",
 "view":{"stroke":"black","strokeWidth":1},
 "line":{"strokeWidth":1},
 "axis":{"grid":false,"domain":false,"tickSize":-4,"tickColor":"black","tickWidth":1,"labelColor":"black","labelFontSize":14,"titleColor":"black","titleFontSize":15,"titleFontWeight":"normal","labelFlush":false,"labelOverlap":false,"labelFont":"Liberation Sans","titleFont":"Liberation Sans"},
 "axisX":{"labelPadding":7,"titlePadding":7,"titleFontSize":16},
 "axisY":{"labelPadding":10,"minExtent":18,"maxExtent":18,"titlePadding":2},
 "text":{"font":"Liberation Sans","color":"black"}
}
}
